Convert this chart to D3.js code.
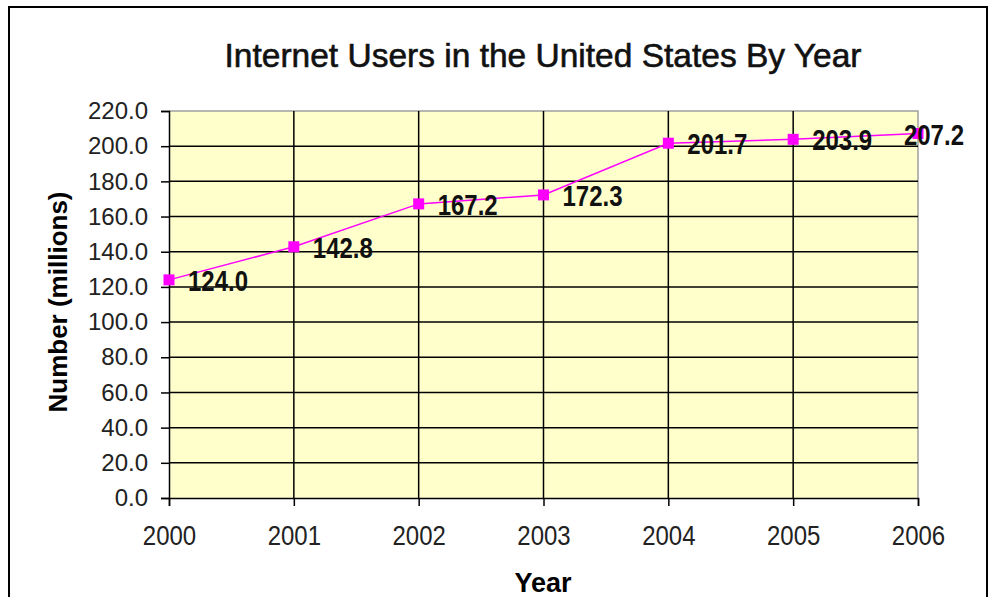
<!DOCTYPE html>
<html lang="en">
<head>
    <meta charset="UTF-8">
    <title>Internet Users in the United States By Year</title>
    <style type="text/css">
        body { margin: 0; background: #fff; }
        svg { display: block; font-family: "Liberation Sans", Arial, sans-serif; }
        .grid line { stroke: #000; stroke-width: 1.5; }
        .axis path, .axis line { stroke: #000; stroke-width: 1.5; }
        .axis text { font-size: 24px; fill: #222; }
        .line { fill: none; stroke: #ff00ff; stroke-width: 1.5; }
        .dot { fill: #ff00ff; }
        .label { font-size: 24px; font-weight: bold; fill: #111; }
    </style>
</head>
<body>
    <svg></svg>

    <script src="https://d3js.org/d3.v7.min.js"></script>
    <script>
        // data
        var years = ['2000', '2001', '2002', '2003', '2004', '2005', '2006'];
        var users = [124.0, 142.8, 167.2, 172.3, 201.7, 203.9, 207.2];
        var yTicks = [0, 20, 40, 60, 80, 100, 120, 140, 160, 180, 200, 220];

        var svgWidth = 995, svgHeight = 597;
        var plot = { left: 169, top: 111, right: 918, bottom: 498 };

        var svg = d3.select('svg')
            .attr('width', svgWidth)
            .attr('height', svgHeight);

        // outer chart frame
        svg.append('rect')
            .attr('x', 9).attr('y', 7)
            .attr('width', 978).attr('height', 620)
            .attr('fill', '#fff')
            .attr('stroke', '#000')
            .attr('stroke-width', 2);

        var x = d3.scalePoint()
            .domain(years)
            .range([plot.left, plot.right]);

        var y = d3.scaleLinear()
            .domain([0, 220])
            .range([plot.bottom, plot.top]);

        // plot background
        svg.append('rect')
            .attr('x', plot.left).attr('y', plot.top)
            .attr('width', plot.right - plot.left)
            .attr('height', plot.bottom - plot.top)
            .attr('fill', '#ffffcc');

        // plot border top/right in grey
        svg.append('path')
            .attr('d', 'M' + plot.left + ',' + plot.top + 'H' + plot.right + 'V' + plot.bottom)
            .attr('fill', 'none')
            .attr('stroke', '#a0a0a0')
            .attr('stroke-width', 1.5);

        // horizontal grid
        svg.append('g')
            .attr('class', 'grid')
            .selectAll('line')
            .data(yTicks.slice(1, -1))
            .enter()
            .append('line')
            .attr('x1', plot.left).attr('x2', plot.right)
            .attr('y1', function(d){ return y(d) })
            .attr('y2', function(d){ return y(d) });

        // vertical grid
        svg.append('g')
            .attr('class', 'grid')
            .selectAll('line')
            .data(years.slice(1, -1))
            .enter()
            .append('line')
            .attr('y1', plot.top).attr('y2', plot.bottom)
            .attr('x1', function(d){ return x(d) })
            .attr('x2', function(d){ return x(d) });

        svg.append('g')
            .attr('class', 'axis')
            .attr('transform', 'translate(' + plot.left + ',0)')
            .call(d3.axisLeft(y).tickValues(yTicks).tickFormat(d3.format('.1f')).tickSizeOuter(0).tickSize(8).tickPadding(13));

        var xAxis = svg.append('g')
            .attr('class', 'axis')
            .attr('transform', 'translate(0,' + plot.bottom + ')')
            .call(d3.axisBottom(x).tickSizeOuter(0).tickSize(8).tickPadding(17));

        // year labels look a bit taller in the original
        xAxis.selectAll('text')
            .attr('dy', null)
            .attr('y', 0)
            .attr('transform', 'translate(0,47) scale(1,1.15)');

        // line and markers
        var line = d3.line()
            .x(function(d, i){ return x(years[i]) })
            .y(function(d){ return y(d) });

        svg.append('path')
            .datum(users)
            .attr('class', 'line')
            .attr('d', line);

        svg.selectAll('.dot')
            .data(users)
            .enter()
            .append('rect')
            .attr('class', 'dot')
            .attr('x', function(d, i){ return x(years[i]) - 5.5 })
            .attr('y', function(d){ return y(d) - 5.5 })
            .attr('width', 11)
            .attr('height', 11);

        // data labels, kept inside the chart frame
        svg.selectAll('.label')
            .data(users)
            .enter()
            .append('text')
            .attr('class', 'label')
            .text(function(d){ return d3.format('.1f')(d) })
            .each(function(d, i){
                var w = this.getComputedTextLength();
                var lx = Math.min(x(years[i]) + 19, 964 - w);
                var ly = y(d) + 11;
                d3.select(this).attr('transform', 'translate(' + lx + ',' + ly + ') scale(1,1.25)');
            });

        // titles
        svg.append('text')
            .attr('x', 543).attr('y', 67)
            .attr('text-anchor', 'middle')
            .style('font-size', '33.5px')
            .style('fill', '#111')
            .style('stroke', '#111')
            .style('stroke-width', 0.6)
            .text('Internet Users in the United States By Year');

        svg.append('text')
            .attr('x', 543).attr('y', 592)
            .attr('text-anchor', 'middle')
            .style('font-size', '27px')
            .style('font-weight', 'bold')
            .text('Year');

        svg.append('text')
            .attr('transform', 'translate(67,302) rotate(-90)')
            .attr('text-anchor', 'middle')
            .style('font-size', '26px')
            .style('font-weight', 'bold')
            .text('Number (millions)');
    </script>
</body>
</html>
